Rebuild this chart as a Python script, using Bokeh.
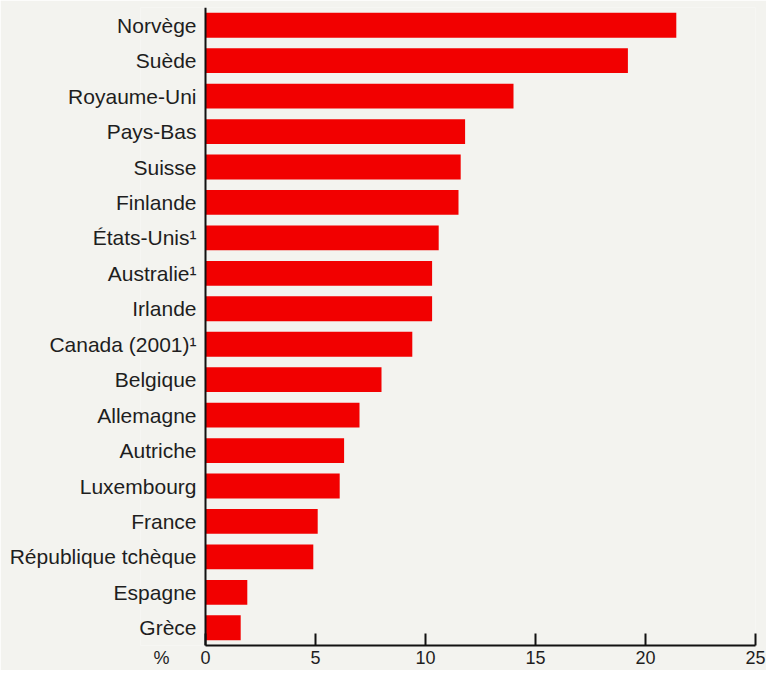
from bokeh.plotting import figure
from bokeh.models import (FactorRange, Range1d, FixedTicker, LinearAxis, Span,
                          CustomJSTickFormatter)
from bokeh.embed import file_html
from bokeh.resources import INLINE

countries = ["Norvège", "Suède", "Royaume-Uni", "Pays-Bas", "Suisse", "Finlande",
             "États-Unis¹", "Australie¹", "Irlande", "Canada (2001)¹", "Belgique",
             "Allemagne", "Autriche", "Luxembourg", "France", "République tchèque",
             "Espagne", "Grèce"]
values = [21.4, 19.2, 14.0, 11.8, 11.6, 11.5, 10.6, 10.3, 10.3, 9.4, 8.0,
          7.0, 6.3, 6.1, 5.1, 4.9, 1.9, 1.6]
x_ticks = [0, 5, 10, 15, 20, 25]
unit_label = "%"

BG = "#f3f3ef"
FONT = "Liberation Sans"
TXT = "#1e1e1e"
AX = "#111111"

# layout constants (pixels)
W, H = 766, 670
FRAME_LEFT, ZERO_X, FRAME_RIGHT = 140, 205, 755
PX_PER_UNIT = (FRAME_RIGHT - ZERO_X) / x_ticks[-1]
X_START = -(ZERO_X - FRAME_LEFT) / PX_PER_UNIT
UNIT_POS = -2.0  # where the "%" sign sits on the value scale

factors = list(reversed(countries))

p = figure(width=W, height=H, output_backend="svg", toolbar_location=None,
           y_range=FactorRange(factors=factors, range_padding=0),
           x_range=Range1d(X_START, x_ticks[-1]))
p.min_border_left = FRAME_LEFT
p.min_border_right = W - FRAME_RIGHT
p.min_border_top = 7
p.min_border_bottom = 23
p.background_fill_color = BG
p.border_fill_color = BG
p.outline_line_color = None
p.xgrid.visible = False
p.ygrid.visible = False

p.hbar(y=countries, right=values, left=0, height=0.7,
       fill_color="#f20000", line_color=None)

# axis line + inward tick marks (as minor ticks, so no labels), limited to 0..25
xa = p.xaxis[0]
xa.ticker = FixedTicker(ticks=[], minor_ticks=x_ticks)
xa.bounds = (x_ticks[0], x_ticks[-1])
xa.axis_line_color = AX
xa.axis_line_width = 2
xa.major_tick_line_color = None
xa.minor_tick_line_color = AX
xa.minor_tick_line_width = 2
xa.minor_tick_in = 12
xa.minor_tick_out = 0
xa.major_tick_in = 0
xa.major_tick_out = 0
xa.major_label_standoff = 0

# tick labels, including the unit sign left of zero
xb = LinearAxis(ticker=FixedTicker(ticks=[UNIT_POS] + x_ticks),
                formatter=CustomJSTickFormatter(
                    code="return tick < 0 ? '%s' : String(tick);" % unit_label),
                axis_line_color=None, major_tick_line_color=None,
                minor_tick_line_color=None, major_tick_in=0, major_tick_out=0,
                major_label_standoff=2, major_label_text_font=FONT,
                major_label_text_font_size="18px", major_label_text_color=TXT)
p.add_layout(xb, "below")

ya = p.yaxis[0]
ya.axis_line_color = None
ya.major_tick_line_color = None
ya.major_tick_in = 0
ya.major_tick_out = 0
ya.minor_tick_line_color = None
ya.major_label_standoff = -(ZERO_X - FRAME_LEFT) + 9
ya.major_label_text_font = FONT
ya.major_label_text_font_size = "21px"
ya.major_label_text_color = TXT

p.add_layout(Span(location=0, dimension="height", line_color=AX, line_width=2))

open("out.html", "w").write(file_html(p, INLINE))
